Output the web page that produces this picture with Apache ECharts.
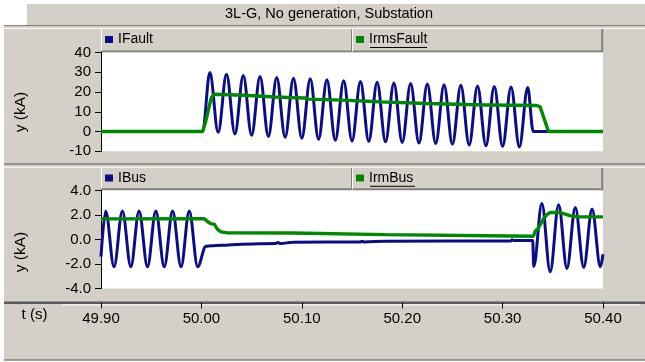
<!DOCTYPE html>
<html>
<head>
<meta charset="utf-8">
<script src="https://cdn.jsdelivr.net/npm/echarts@6/dist/echarts.min.js"></script>
<style>
html, body { margin: 0; padding: 0; background: #ffffff; }
#chart { width: 645px; height: 362px; }
</style>
</head>
<body>
<div id="chart"></div>
<script>
// Chart text
const titleText = '3L-G, No generation, Substation';
const seriesNames = ['IFault', 'IrmsFault', 'IBus', 'IrmBus'];
const yAxisTitle = 'y (kA)';
const xAxisTitle = 't (s)';

// Axis ranges: [min, max, interval]
const timeAxis = [49.90, 50.40, 0.10];
const faultAxis = [-10, 40, 10];
const busAxis = [-4, 4, 2];

// Fault current, kA: [t (s), value] at waveform peaks and troughs
const iFault = [
  [49.9000, 0], [50.0012, 0],
  [50.0084, 29.9], [50.0167, -0.4], [50.0250, 29.0], [50.0334, -1.2],
  [50.0417, 28.4], [50.0500, -1.9], [50.0584, 27.9], [50.0667, -2.5],
  [50.0750, 27.4], [50.0834, -2.9], [50.0917, 27.0], [50.1000, -3.4],
  [50.1084, 26.7], [50.1167, -3.9], [50.1250, 26.2], [50.1334, -4.4],
  [50.1417, 25.7], [50.1500, -4.8], [50.1584, 25.3], [50.1667, -5.0],
  [50.1750, 25.0], [50.1834, -5.2], [50.1917, 24.6], [50.2000, -5.5],
  [50.2084, 24.3], [50.2167, -5.8], [50.2250, 24.0], [50.2334, -6.1],
  [50.2417, 23.7], [50.2500, -6.4], [50.2584, 23.4], [50.2667, -6.8],
  [50.2750, 23.1], [50.2834, -7.2], [50.2917, 22.8], [50.3000, -7.5],
  [50.3084, 22.6], [50.3167, -7.8], [50.3250, 22.3],
  [50.3305, 0], [50.4000, 0]
];

// RMS fault current, kA
const irmsFault = [
  [49.9000, 0], [50.0012, 0], [50.0040, 4.5], [50.0097, 16.9], [50.0128, 18.9],
  [50.0428, 18.4], [50.0728, 17.5], [50.1027, 17.0], [50.1060, 16.4],
  [50.1394, 15.9], [50.1660, 15.3], [50.1776, 15.0], [50.1790, 14.5],
  [50.2242, 14.2], [50.2255, 13.8], [50.2842, 13.4], [50.2850, 13.8],
  [50.2870, 13.4], [50.3341, 13.2], [50.3374, 12.5], [50.3457, 0], [50.4000, 0]
];

// Substation bus current, kA
const iBus = [
  [49.9000, -1.4],
  [49.9046, 2.33], [49.9130, -2.22], [49.9213, 2.33], [49.9297, -2.22],
  [49.9379, 2.33], [49.9463, -2.22], [49.9546, 2.33], [49.9630, -2.22],
  [49.9713, 2.33], [49.9797, -2.22], [49.9879, 2.33], [49.9963, -2.22],
  [50.0045, -0.55], [50.0100, -0.50], [50.0200, -0.47], [50.0400, -0.38],
  [50.0740, -0.33], [50.0760, -0.25], [50.0790, -0.33], [50.0910, -0.22],
  [50.1580, -0.20], [50.1600, -0.14], [50.1620, -0.20], [50.1840, -0.14],
  [50.3080, -0.12], [50.3095, -0.02], [50.3110, -0.08], [50.3300, -0.08],
  [50.3310, -2.20], [50.3391, 2.94], [50.3474, -2.63], [50.3558, 2.83],
  [50.3641, -2.36], [50.3724, 2.61], [50.3808, -2.28], [50.3891, 2.48],
  [50.3974, -2.22], [50.4000, -1.20]
];

// RMS bus current, kA
const irmBus = [
  [49.9000, 1.68], [50.0029, 1.70], [50.0078, 1.36], [50.0100, 1.28],
  [50.0128, 1.25], [50.0161, 0.82], [50.0195, 0.62], [50.0261, 0.54],
  [50.0910, 0.53], [50.0927, 0.41], [50.1830, 0.40], [50.1843, 0.27],
  [50.3307, 0.27], [50.3324, 0.67], [50.3357, 0.94], [50.3407, 1.68],
  [50.3441, 2.03], [50.3474, 2.20], [50.3574, 2.20], [50.3673, 1.95],
  [50.3740, 1.85], [50.4000, 1.85]
];

const BLUE = '#0c0c88';
const GREEN = '#008800';
const FACE = '#d4d0c8';
const SHADOW = '#808080';
const FONT = "'Liberation Sans', Arial, sans-serif";

const chart = echarts.init(document.getElementById('chart'), null, { renderer: 'canvas' });

function hLine(y, x1, x2, color, w) {
  return { type: 'line', shape: { x1: x1, y1: y, x2: x2, y2: y }, style: { stroke: color, lineWidth: w || 1 }, z: -5, silent: true };
}
function vLine(x, y1, y2, color, w) {
  return { type: 'line', shape: { x1: x, y1: y1, x2: x, y2: y2 }, style: { stroke: color, lineWidth: w || 1 }, z: -5, silent: true };
}
function legendBox(top, bottom) {
  return [
    { type: 'rect', shape: { x: 101, y: top, width: 502, height: bottom - top }, style: { fill: FACE }, z: -6, silent: true },
    vLine(101.5, top, bottom, '#ffffff'),
    vLine(602.2, top, bottom, SHADOW, 2),
    hLine(bottom - 1, 101, 603, SHADOW, 2),
    vLine(351.5, top, bottom - 1, SHADOW),
    vLine(352.5, top, bottom - 1, '#ffffff')
  ];
}
function yName(y) {
  return { type: 'text', x: 21, y: y, rotation: Math.PI / 2, silent: true,
    style: { text: yAxisTitle, font: '15.5px ' + FONT, fill: '#000', align: 'center', verticalAlign: 'middle' } };
}

const graphics = [
  { type: 'rect', shape: { x: 4, y: 26, width: 641, height: 334 }, style: { fill: FACE }, z: -10, silent: true },
  { type: 'rect', shape: { x: 27, y: 4, width: 618, height: 22 }, style: { fill: FACE }, z: -10, silent: true },
  hLine(25.5, 4, 645, SHADOW),
  hLine(28.5, 4, 645, '#ffffff'),
  hLine(164, 4, 645, SHADOW, 1.5),
  hLine(167.2, 4, 645, '#ffffff'),
  hLine(302.8, 4, 645, '#5a5a5a', 2.4),
  hLine(304.9, 62, 640, '#ffffff'),
  hLine(360, 4, 645, SHADOW, 1.5),
  ...legendBox(29, 52.5),
  ...legendBox(168, 190.3),
  // underlined legend entries
  hLine(47.5, 370, 427, '#000'),
  hLine(186.3, 370, 415, '#000'),
  { type: 'text', x: 329, y: 14, silent: true,
    style: { text: titleText, font: '14.5px ' + FONT, fill: '#000', align: 'center', verticalAlign: 'middle' } },
  yName(112),
  yName(252),
  { type: 'text', x: 34.5, y: 315, silent: true,
    style: { text: xAxisTitle, font: '15px ' + FONT, fill: '#000', align: 'center', verticalAlign: 'middle' } }
];

function legendAt(name, left, top) {
  return {
    data: [name], left: left, top: top, padding: 0, selectedMode: false,
    icon: 'rect', itemWidth: 8, itemHeight: 7,
    textStyle: { fontFamily: FONT, fontSize: 14, color: '#000', padding: [0, 0, 0, 0] }
  };
}

function lineSeries(name, axisIdx, data, color, width, smooth, z) {
  return {
    name: name, type: 'line', xAxisIndex: axisIdx, yAxisIndex: axisIdx, data: data,
    showSymbol: false, symbol: 'none', smooth: smooth, smoothMonotone: 'x',
    lineStyle: { color: color, width: width }, itemStyle: { color: color },
    z: z, animation: false, clip: true
  };
}

function yAxisCfg(idx, range, fmt) {
  return {
    type: 'value', gridIndex: idx, min: range[0], max: range[1], interval: range[2],
    axisLine: { show: true, onZero: false, lineStyle: { color: '#000', width: 1 } },
    axisTick: { show: true, length: 6, lineStyle: { color: '#000' } },
    axisLabel: { margin: 10, color: '#000', fontFamily: FONT, fontSize: 15, formatter: fmt },
    splitLine: { show: false }
  };
}

const option = {
  animation: false,
  backgroundColor: 'transparent',
  graphic: graphics,
  legend: [
    legendAt(seriesNames[0], 105, 32.5),
    legendAt(seriesNames[1], 356, 32.5),
    legendAt(seriesNames[2], 105, 171),
    legendAt(seriesNames[3], 356, 171)
  ],
  grid: [
    { left: 101, right: 42, top: 52.5, height: 98.8, show: true, backgroundColor: '#ffffff', borderWidth: 0 },
    { left: 101, right: 42, top: 190.5, height: 98, show: true, backgroundColor: '#ffffff', borderWidth: 0 }
  ],
  xAxis: [
    { type: 'value', gridIndex: 0, min: timeAxis[0], max: timeAxis[1], interval: timeAxis[2], show: false },
    {
      type: 'value', gridIndex: 1, min: timeAxis[0], max: timeAxis[1], interval: timeAxis[2],
      position: 'bottom', offset: 14,
      axisLine: { show: false, onZero: false },
      axisTick: { show: true, length: 6, lineStyle: { color: '#000' } },
      axisLabel: { margin: 9, color: '#000', fontFamily: FONT, fontSize: 15,
        formatter: v => v.toFixed(2), showMinLabel: true, showMaxLabel: true },
      splitLine: { show: false }
    }
  ],
  yAxis: [
    yAxisCfg(0, faultAxis, v => String(Math.round(v))),
    yAxisCfg(1, busAxis, v => v.toFixed(1))
  ],
  series: [
    lineSeries(seriesNames[0], 0, iFault, BLUE, 3, 0.35, 2),
    lineSeries(seriesNames[1], 0, irmsFault, GREEN, 3.4, false, 3),
    lineSeries(seriesNames[2], 1, iBus, BLUE, 3, 0.35, 2),
    lineSeries(seriesNames[3], 1, irmBus, GREEN, 3.4, false, 3)
  ]
};

chart.setOption(option);
</script>
</body>
</html>
